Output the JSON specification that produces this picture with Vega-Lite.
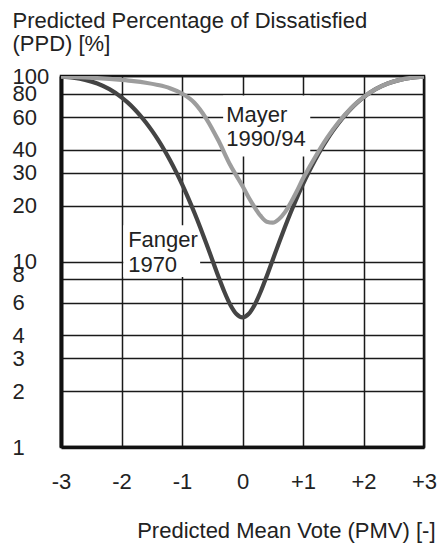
{
  "$schema": "https://vega.github.io/schema/vega-lite/v6.json",
  "width": 363,
  "height": 371,
  "autosize": "none",
  "padding": {"left": 61, "top": 76, "right": 13, "bottom": 96},
  "background": "white",
  "config": {
    "view": {"stroke": "#111111", "strokeWidth": 2.5},
    "font": "Liberation Sans"
  },
  "datasets": {
    "boxes": [
      {"pmv": -1.97, "pmv2": -0.70, "ppd": 8.25, "ppd2": 15.7},
      {"pmv": -0.32, "pmv2": 1.12, "ppd": 36.8, "ppd2": 78.5}
    ],
    "fanger": [
      {"pmv": -3.0, "ppd": 99.12}, {"pmv": -2.8, "ppd": 97.81}, {"pmv": -2.6, "ppd": 95.30},
      {"pmv": -2.4, "ppd": 91.10}, {"pmv": -2.2, "ppd": 84.91}, {"pmv": -2.0, "ppd": 76.76},
      {"pmv": -1.9, "ppd": 72.05}, {"pmv": -1.8, "ppd": 67.02}, {"pmv": -1.7, "ppd": 61.75},
      {"pmv": -1.6, "ppd": 56.34}, {"pmv": -1.5, "ppd": 50.90}, {"pmv": -1.4, "ppd": 45.51},
      {"pmv": -1.3, "ppd": 40.27}, {"pmv": -1.2, "ppd": 35.24}, {"pmv": -1.1, "ppd": 30.51},
      {"pmv": -1.0, "ppd": 26.12}, {"pmv": -0.9, "ppd": 22.10}, {"pmv": -0.8, "ppd": 18.49},
      {"pmv": -0.7, "ppd": 15.31}, {"pmv": -0.6, "ppd": 12.55}, {"pmv": -0.5, "ppd": 10.23},
      {"pmv": -0.4, "ppd": 8.33}, {"pmv": -0.3, "ppd": 6.87}, {"pmv": -0.2, "ppd": 5.83},
      {"pmv": -0.1, "ppd": 5.21}, {"pmv": 0.0, "ppd": 5.00}, {"pmv": 0.1, "ppd": 5.21},
      {"pmv": 0.2, "ppd": 5.83}, {"pmv": 0.3, "ppd": 6.87}, {"pmv": 0.4, "ppd": 8.33},
      {"pmv": 0.5, "ppd": 10.23}, {"pmv": 0.6, "ppd": 12.55}, {"pmv": 0.7, "ppd": 15.31},
      {"pmv": 0.8, "ppd": 18.49}, {"pmv": 0.9, "ppd": 22.10}, {"pmv": 1.0, "ppd": 26.12},
      {"pmv": 1.1, "ppd": 30.51}, {"pmv": 1.2, "ppd": 35.24}, {"pmv": 1.3, "ppd": 40.27},
      {"pmv": 1.4, "ppd": 45.51}, {"pmv": 1.5, "ppd": 50.90}, {"pmv": 1.6, "ppd": 56.34},
      {"pmv": 1.7, "ppd": 61.75}, {"pmv": 1.8, "ppd": 67.02}, {"pmv": 1.9, "ppd": 72.05},
      {"pmv": 2.0, "ppd": 76.76}, {"pmv": 2.2, "ppd": 84.91}, {"pmv": 2.4, "ppd": 91.10},
      {"pmv": 2.6, "ppd": 95.30}, {"pmv": 2.8, "ppd": 97.81}, {"pmv": 3.0, "ppd": 99.12}
    ],
    "mayer": [
      {"pmv": -3.0, "ppd": 99.3}, {"pmv": -2.8, "ppd": 98.8}, {"pmv": -2.6, "ppd": 98.2},
      {"pmv": -2.4, "ppd": 97.4}, {"pmv": -2.2, "ppd": 96.4}, {"pmv": -2.0, "ppd": 95.2},
      {"pmv": -1.8, "ppd": 93.8}, {"pmv": -1.6, "ppd": 92.0}, {"pmv": -1.4, "ppd": 89.5},
      {"pmv": -1.2, "ppd": 86.0}, {"pmv": -1.0, "ppd": 80.5}, {"pmv": -0.8, "ppd": 72.0},
      {"pmv": -0.6, "ppd": 59.0}, {"pmv": -0.4, "ppd": 45.0}, {"pmv": -0.2, "ppd": 33.0},
      {"pmv": 0.0, "ppd": 25.5}, {"pmv": 0.1, "ppd": 22.2}, {"pmv": 0.2, "ppd": 19.6},
      {"pmv": 0.3, "ppd": 17.6}, {"pmv": 0.4, "ppd": 16.4}, {"pmv": 0.5, "ppd": 16.2},
      {"pmv": 0.6, "ppd": 16.9}, {"pmv": 0.7, "ppd": 18.4}, {"pmv": 0.8, "ppd": 20.8},
      {"pmv": 0.9, "ppd": 24.0}, {"pmv": 1.0, "ppd": 28.0}, {"pmv": 1.1, "ppd": 32.0},
      {"pmv": 1.2, "ppd": 36.5}, {"pmv": 1.4, "ppd": 46.5}, {"pmv": 1.6, "ppd": 57.0},
      {"pmv": 1.8, "ppd": 67.5}, {"pmv": 2.0, "ppd": 77.0}, {"pmv": 2.2, "ppd": 85.0},
      {"pmv": 2.4, "ppd": 91.2}, {"pmv": 2.6, "ppd": 95.3}, {"pmv": 2.8, "ppd": 97.8},
      {"pmv": 3.0, "ppd": 99.1}
    ],
    "labels": [
      {"pmv": -1.89, "ppd": 11.97, "text": "Fanger"},
      {"pmv": -1.89, "ppd": 8.78, "text": "1970"},
      {"pmv": -0.27, "ppd": 56.5, "text": "Mayer"},
      {"pmv": -0.27, "ppd": 41.8, "text": "1990/94"}
    ]
  },
  "layer": [
    {
      "data": {"name": "boxes"},
      "mark": {"type": "rect", "fill": "white", "stroke": null},
      "encoding": {
        "x": {
          "field": "pmv", "type": "quantitative",
          "scale": {"domain": [-3, 3], "nice": false, "zero": false},
          "axis": {
            "values": [-3, -2, -1, 0, 1, 2, 3],
            "grid": true, "gridColor": "#1a1a1a", "gridWidth": 1.5,
            "ticks": false, "tickSize": 0,
            "domain": true, "domainColor": "#111111", "domainWidth": 3.5,
            "labelPadding": 24, "labelFontSize": 22, "labelColor": "#222222",
            "labelFont": "Liberation Sans",
            "labelExpr": "datum.value > 0 ? '+' + datum.value : '' + datum.value",
            "labelFlush": false, "labelOverlap": false, "labelBaseline": "top",
            "title": "Predicted Mean Vote (PMV) [-]",
            "titleFont": "Liberation Sans", "titleFontSize": 22, "titleFontWeight": "normal",
            "titleColor": "#222222", "titleAlign": "right", "titleAnchor": "end",
            "titleX": 374, "titleY": 90, "titleBaseline": "alphabetic"
          }
        },
        "x2": {"field": "pmv2"},
        "y": {
          "field": "ppd", "type": "quantitative",
          "scale": {"type": "log", "domain": [1, 100], "nice": false},
          "axis": {
            "values": [1, 2, 3, 4, 6, 8, 10, 20, 30, 40, 60, 80, 100],
            "grid": true, "gridColor": "#1a1a1a", "gridWidth": 1.5,
            "ticks": false, "tickSize": 0,
            "domain": true, "domainColor": "#111111", "domainWidth": 4,
            "labelAlign": "left", "labelBaseline": "middle", "labelPadding": 49,
            "labelFontSize": 22, "labelColor": "#222222", "labelFont": "Liberation Sans",
            "labelOverlap": false, "labelFlush": false,
            "labelExpr": "'' + datum.value",
            "labelOffset": {"condition": {"test": "datum.value == 8", "value": -5}, "value": 0},
            "title": ["Predicted Percentage of Dissatisfied", "(PPD) [%]"],
            "titleFont": "Liberation Sans", "titleFontSize": 22, "titleFontWeight": "normal",
            "titleColor": "#222222", "titleAngle": 0, "titleAlign": "left",
            "titleBaseline": "alphabetic", "titleX": -49, "titleY": -49, "titleLineHeight": 23.5
          }
        },
        "y2": {"field": "ppd2"}
      }
    },
    {
      "data": {"name": "fanger"},
      "mark": {"type": "line", "color": "#444444", "strokeWidth": 4.2, "interpolate": "monotone", "clip": true},
      "encoding": {
        "x": {"field": "pmv", "type": "quantitative"},
        "y": {"field": "ppd", "type": "quantitative"}
      }
    },
    {
      "data": {"name": "mayer"},
      "mark": {"type": "line", "color": "#9d9d9d", "strokeWidth": 4.2, "interpolate": "monotone", "clip": true},
      "encoding": {
        "x": {"field": "pmv", "type": "quantitative"},
        "y": {"field": "ppd", "type": "quantitative"}
      }
    },
    {
      "data": {"name": "labels"},
      "mark": {"type": "text", "align": "left", "baseline": "alphabetic", "fontSize": 22, "font": "Liberation Sans", "color": "#222222"},
      "encoding": {
        "x": {"field": "pmv", "type": "quantitative"},
        "y": {"field": "ppd", "type": "quantitative"},
        "text": {"field": "text", "type": "nominal"}
      }
    }
  ]
}
